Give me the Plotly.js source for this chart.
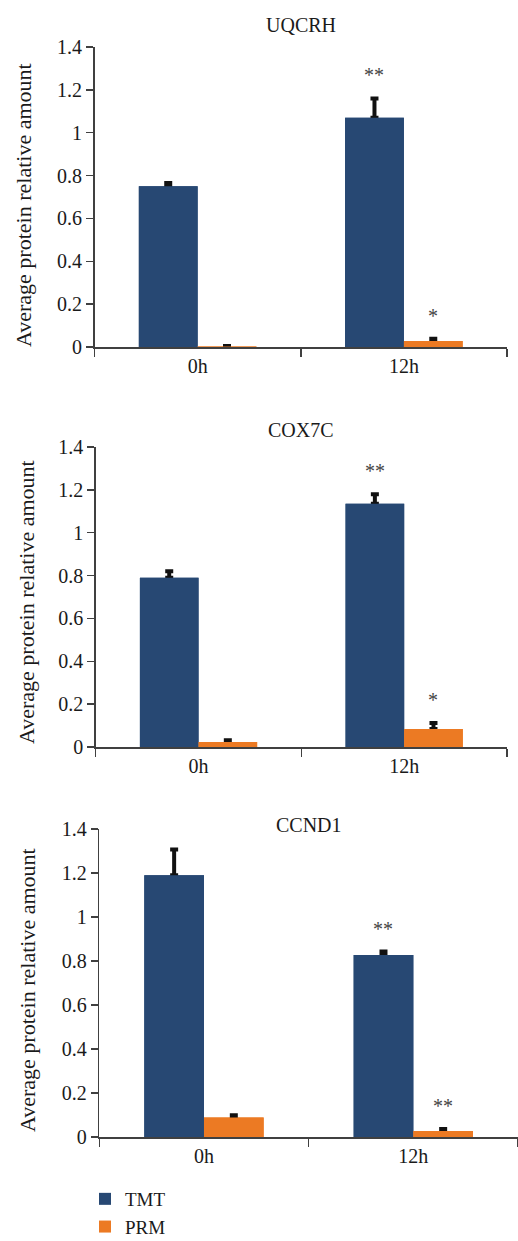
<!DOCTYPE html>
<html>
<head>
<meta charset="utf-8">
<script src="https://cdn.plot.ly/plotly-3.0.1.min.js"></script>
<style>
html,body{margin:0;padding:0;background:#fff;width:518px;height:1241px;overflow:hidden;}
#chart{position:absolute;left:0;top:0;width:518px;height:1241px;overflow:hidden;}
</style>
</head>
<body>
<div id="chart"></div>
<script>
// ---- data ----
const categories = ['0h', '12h'];
const genes = ['UQCRH', 'COX7C', 'CCND1'];
const seriesNames = ['TMT', 'PRM'];

const tmtUQCRH = [0.75, 1.07];
const tmtErrUQCRH = [0.015, 0.09];
const prmUQCRH = [0.002, 0.028];
const prmErrUQCRH = [0.003, 0.01];
const sigTmtUQCRH = ['', '**'];
const sigPrmUQCRH = ['', '*'];

const tmtCOX7C = [0.79, 1.135];
const tmtErrCOX7C = [0.03, 0.045];
const prmCOX7C = [0.023, 0.084];
const prmErrCOX7C = [0.008, 0.028];
const sigTmtCOX7C = ['', '**'];
const sigPrmCOX7C = ['', '*'];

const tmtCCND1 = [1.19, 0.827];
const tmtErrCCND1 = [0.117, 0.016];
const prmCCND1 = [0.089, 0.027];
const prmErrCCND1 = [0.01, 0.009];
const sigTmtCCND1 = ['', '**'];
const sigPrmCCND1 = ['', '**'];

const yTickVals = [0, 0.2, 0.4, 0.6, 0.8, 1, 1.2, 1.4];
const yTickText = ['0', '0.2', '0.4', '0.6', '0.8', '1', '1.2', '1.4'];
const yAxisLabel = 'Average protein relative amount';

// ---- styling ----
const W = 518, H = 1241;
const navy = '#274873';
const orange = '#EC7A23';
const axisCol = '#404040';
const txtCol = '#1a1a1a';
const FONT = 'Liberation Serif, Times New Roman, serif';
const BARGAP = 0.43;

const panels = [
  {tmt: tmtUQCRH, tmtErr: tmtErrUQCRH, prm: prmUQCRH, prmErr: prmErrUQCRH, sT: sigTmtUQCRH, sP: sigPrmUQCRH,
   px: [94.5, 507], py: [47, 347], titleY: 25, labX: 23, labY: 205},
  {tmt: tmtCOX7C, tmtErr: tmtErrCOX7C, prm: prmCOX7C, prmErr: prmErrCOX7C, sT: sigTmtCOX7C, sP: sigPrmCOX7C,
   px: [95.7, 507], py: [447, 747], titleY: 430, labX: 27, labY: 602},
  {tmt: tmtCCND1, tmtErr: tmtErrCCND1, prm: prmCCND1, prmErr: prmErrCCND1, sT: sigTmtCCND1, sP: sigPrmCCND1,
   px: [99.3, 518], py: [829, 1137], titleY: 825, labX: 27, labY: 990}
];

const traces = [];
const annotations = [];
const layout = {
  width: W, height: H,
  margin: {l: 0, r: 0, t: 0, b: 0, pad: 0, autoexpand: false},
  paper_bgcolor: '#fff', plot_bgcolor: '#fff',
  barmode: 'group', bargap: BARGAP, bargroupgap: 0,
  font: {family: FONT, size: 19, color: txtCol},
  showlegend: true,
  legend: {x: 85 / W, y: 1 - 1180 / H, xanchor: 'left', yanchor: 'top',
           orientation: 'v', font: {family: FONT, size: 19, color: txtCol},
           bgcolor: 'rgba(0,0,0,0)', itemwidth: 30, tracegroupgap: 0},
  annotations: annotations
};

const halfOff = (1 - BARGAP) / 4;

panels.forEach((p, i) => {
  const n = i === 0 ? '' : String(i + 1);
  const xa = 'x' + n, ya = 'y' + n;
  const errStyle = (arr) => ({type: 'data', array: arr, arrayminus: arr.map(() => 0), symmetric: false,
                              visible: true, color: '#111', thickness: 4, width: 4});
  traces.push({type: 'bar', name: seriesNames[0], x: categories, y: p.tmt, xaxis: xa, yaxis: ya,
    marker: {color: navy}, offsetgroup: 'tmt', legendgroup: 'tmt', showlegend: i === 0,
    error_y: errStyle(p.tmtErr)});
  traces.push({type: 'bar', name: seriesNames[1], x: categories, y: p.prm, xaxis: xa, yaxis: ya,
    marker: {color: orange}, offsetgroup: 'prm', legendgroup: 'prm', showlegend: i === 0,
    error_y: errStyle(p.prmErr)});
  traces.push({type: 'bar', name: seriesNames[0], x: categories, y: p.tmt, xaxis: xa, yaxis: ya,
    marker: {color: navy}, offsetgroup: 'tmt', legendgroup: 'tmt', showlegend: false, hoverinfo: 'skip'});
  traces.push({type: 'bar', name: seriesNames[1], x: categories, y: p.prm, xaxis: xa, yaxis: ya,
    marker: {color: orange}, offsetgroup: 'prm', legendgroup: 'prm', showlegend: false, hoverinfo: 'skip'});

  layout['xaxis' + n] = {
    domain: [p.px[0] / W, p.px[1] / W], anchor: ya, type: 'category',
    categoryorder: 'array', categoryarray: categories,
    showline: true, linecolor: axisCol, linewidth: 1.5,
    ticks: 'outside', tickson: 'boundaries', ticklen: 8, tickwidth: 1.5, tickcolor: axisCol,
    showgrid: false, zeroline: false, fixedrange: true, automargin: false,
    tickfont: {family: FONT, size: 20, color: txtCol}
  };
  layout['yaxis' + n] = {
    domain: [1 - p.py[1] / H, 1 - p.py[0] / H], anchor: xa,
    range: [0, 1.4], tickvals: yTickVals, ticktext: yTickText,
    showline: true, linecolor: axisCol, linewidth: 1.5,
    ticks: 'outside', ticklen: 7, tickwidth: 1.5, tickcolor: axisCol,
    showgrid: false, zeroline: false, fixedrange: true, automargin: false,
    tickfont: {family: FONT, size: 20, color: txtCol}
  };

  annotations.push({text: genes[i], xref: 'paper', yref: 'paper',
    x: (p.px[0] + p.px[1]) / 2 / W, y: 1 - p.titleY / H, xanchor: 'center', yanchor: 'middle',
    showarrow: false, font: {family: FONT, size: 20, color: txtCol}});
  annotations.push({text: yAxisLabel, xref: 'paper', yref: 'paper', textangle: -90,
    x: p.labX / W, y: 1 - p.labY / H, xanchor: 'center', yanchor: 'middle',
    showarrow: false, font: {family: FONT, size: 22, color: txtCol}});
  categories.forEach((c, k) => {
    if (p.sT[k]) annotations.push({text: p.sT[k], xref: xa, yref: ya, x: k - halfOff, y: p.tmt[k] + p.tmtErr[k],
      xanchor: 'center', yanchor: 'middle', yshift: 23, showarrow: false,
      font: {family: FONT, size: 20, color: '#444'}});
    if (p.sP[k]) annotations.push({text: p.sP[k], xref: xa, yref: ya, x: k + halfOff, y: p.prm[k] + p.prmErr[k],
      xanchor: 'center', yanchor: 'middle', yshift: 23, showarrow: false,
      font: {family: FONT, size: 20, color: '#444'}});
  });
});

Plotly.newPlot('chart', traces, layout, {staticPlot: true, displayModeBar: false});
</script>
</body>
</html>
